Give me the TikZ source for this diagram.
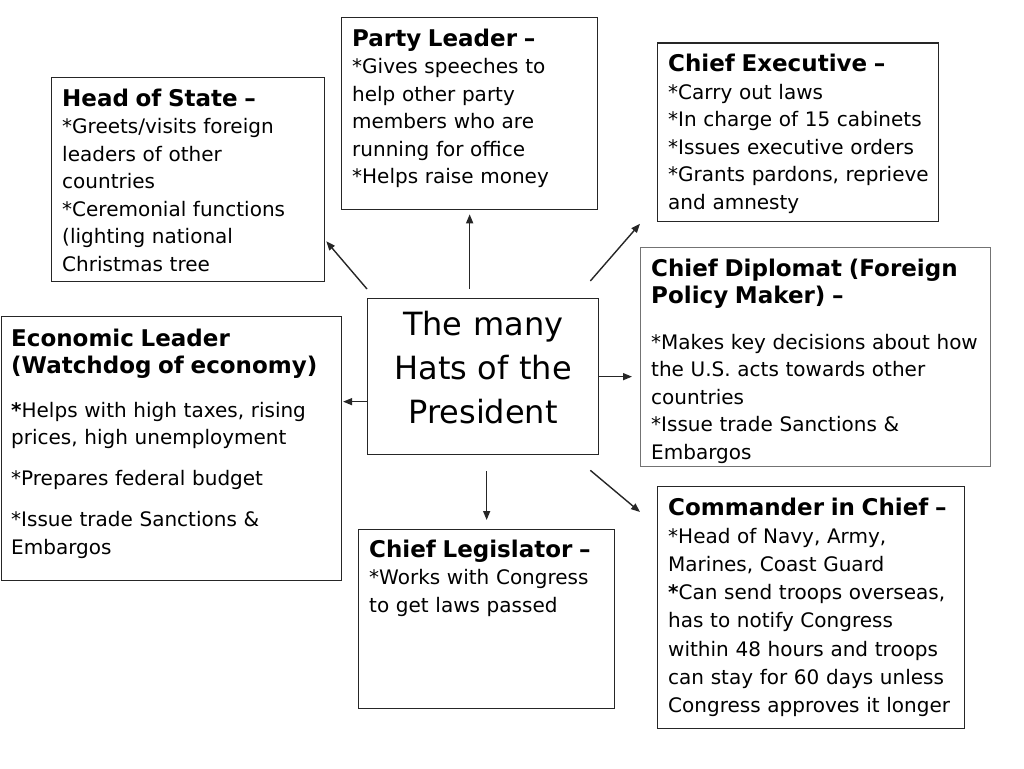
\documentclass[tikz,border=0pt]{standalone}
\usepackage{fontspec}
\setmainfont{DejaVu Sans}
\usetikzlibrary{calc,arrows.meta}
\newcommand{\hattitle}[1]{{\bfseries\fontsize{23}{27.5}\selectfont #1}}
\newcommand{\boldast}{\textbf{*}}

\begin{document}
\begin{tikzpicture}[x=1pt,y=1pt,
  hatbox/.style={draw=black!85,line width=1.3pt,anchor=north west,inner sep=0pt},
  hattext/.style={anchor=base west,inner sep=0pt,text width=400pt,align=left,
    font=\fontsize{20}{27.5}\selectfont},
  hatarrow/.style={-{Triangle[length=9pt,width=7pt]},line width=1.4pt,draw=black!85}]
  \useasboundingbox (0,0) rectangle (1024,-768);

  % the centre box
  \node[hatbox,minimum width=231,minimum height=156] (hats) at (367,-298) {};
  \node[anchor=base,inner sep=0pt,text width=231pt,align=center,
    font=\fontsize{32}{44}\selectfont] (hatslabel) at ($(hats.north)+(0,-37)$)
    {The many\\Hats of the\\President};

  % the seven hats round it
  \node[hatbox,minimum width=273,minimum height=204] (state) at (51,-77) {};
  \node[hattext] (statetext) at ($(state.north west)+(11,-29)$)
    {\hattitle{Head of State --}\\{}
     *Greets/visits foreign\\leaders of other\\countries\\{}
     *Ceremonial functions\\(lighting national\\Christmas tree};

  \node[hatbox,minimum width=256,minimum height=192] (party) at (341,-17) {};
  \node[hattext] (partytext) at ($(party.north west)+(11,-29)$)
    {\hattitle{Party Leader --}\\{}
     *Gives speeches to\\help other party\\members who are\\running for office\\{}
     *Helps raise money};

  \node[hatbox,minimum width=281,minimum height=178] (exec) at (657,-42.5) {};
  \node[hattext] (exectext) at ($(exec.north west)+(11,-29)$)
    {\hattitle{Chief Executive --}\\{}
     *Carry out laws\\{}*In charge of 15 cabinets\\{}*Issues executive orders\\{}
     *Grants pardons, reprieve\\and amnesty};

  \node[hatbox,draw=black!55,minimum width=350,minimum height=219] (diplomat) at (640,-247) {};
  \node[hattext] (diplomattext) at ($(diplomat.north west)+(11,-29)$)
    {\hattitle{Chief Diplomat (Foreign}\\\hattitle{Policy Maker) --}\\[18pt]
     *Makes key decisions about how\\the U.S. acts towards other\\countries\\{}
     *Issue trade Sanctions \&\\Embargos};

  \node[hatbox,minimum width=340,minimum height=264] (econ) at (0.8,-316) {};
  \node[hattext] (econtext) at ($(econ.north west)+(10.2,-30)$)
    {\hattitle{Economic Leader}\\\hattitle{(Watchdog of economy)}\\[16pt]
     \boldast Helps with high taxes, rising\\prices, high unemployment\\[13pt]
     *Prepares federal budget\\[14pt]
     *Issue trade Sanctions \&\\Embargos};

  \node[hatbox,minimum width=256,minimum height=179] (legis) at (358,-529) {};
  \node[hattext] (legistext) at ($(legis.north west)+(11,-28)$)
    {\hattitle{Chief Legislator --}\\{}
     *Works with Congress\\to get laws passed};

  \node[hatbox,minimum width=307,minimum height=242] (command) at (657,-486) {};
  \node[hattext,font=\fontsize{20}{28.2}\selectfont] (commandtext) at ($(command.north west)+(11,-29)$)
    {\hattitle{Commander in Chief --}\\{}
     *Head of Navy, Army,\\Marines, Coast Guard\\
     \boldast Can send troops overseas,\\has to notify Congress\\within 48 hours and troops\\
     can stay for 60 days unless\\Congress approves it longer};

  % loose ends of the arrows, kept clear of the boxes
  \coordinate (s1) at ($(hats.north west)+(0,9)$);
  \coordinate (s2) at ($(state.south east)+(1,41)$);
  \coordinate (p1) at ($(hats.north -| party.south)+(0,9)$);
  \coordinate (p2) at ($(party.south)+(0,-4)$);
  \coordinate (x1) at ($(hats.north east)+(-9,17)$);
  \coordinate (x2) at ($(exec.south west)+(-17,-2)$);
  \coordinate (d2) at ($(hats.east -| diplomat.west)+(-8,0)$);
  \coordinate (e1) at ($(hats.west)+(0,-25)$);
  \coordinate (e2) at ($(hats.west -| econ.east)+(1,-25)$);
  \coordinate (l1) at ($(hats.south -| legis.north)+(0,-16)$);
  \coordinate (l2) at ($(legis.north)+(0,9)$);
  \coordinate (c1) at ($(hats.south east)+(-9,-15)$);
  \coordinate (c2) at ($(command.north west)+(-17,-26)$);

  % arrows out of the centre
  \draw[hatarrow] (s1) -- (s2);
  \draw[hatarrow] (p1) -- (p2);
  \draw[hatarrow] (x1) -- (x2);
  \draw[hatarrow] (hats.east) -- (d2);
  \draw[hatarrow] (e1) -- (e2);
  \draw[hatarrow] (l1) -- (l2);
  \draw[hatarrow] (c1) -- (c2);

\end{tikzpicture}
\end{document}
